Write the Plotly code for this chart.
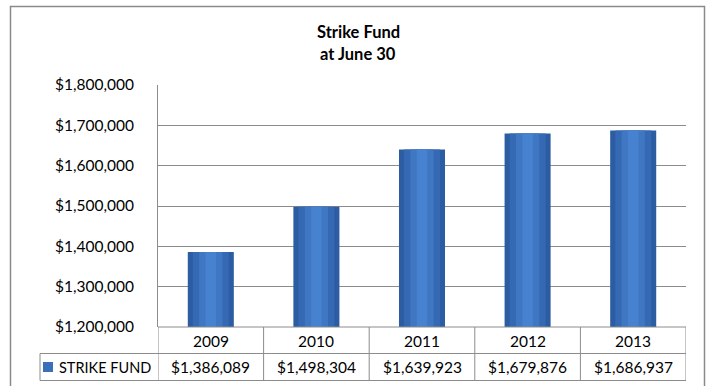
import plotly.graph_objects as go

years = ["2009", "2010", "2011", "2012", "2013"]
strike_fund = [1386089, 1498304, 1639923, 1679876, 1686937]
series_name = "STRIKE FUND"
title_lines = ["Strike Fund", "at June 30"]
y_ticks = [1200000, 1300000, 1400000, 1500000, 1600000, 1700000, 1800000]

FONT = "Lato"
FS = 15.5
GRID = "#8c8c8c"
W, H = 709, 386
L, R, T, B = 158, 23, 85, 59
pw, ph = W - L - R, H - T - B

def px_x(px):
    return (px - L) / pw

def px_y(py):
    return (H - B - py) / ph

fig = go.Figure()
# layered bars to mimic gradient
for w, col in [(0.436, "#2C5DA3"), (0.34, "#3569B3"), (0.22, "#3F77C3"), (0.10, "#4682CF")]:
    fig.add_trace(go.Bar(x=years, y=strike_fund, width=w, marker=dict(color=col, line=dict(width=0)),
                         showlegend=False, hoverinfo="skip"))

fig.update_layout(
    width=W, height=H, margin=dict(l=L, r=R, t=T, b=B),
    paper_bgcolor="white", plot_bgcolor="white",
    barmode="overlay", showlegend=False,
    font=dict(family=FONT, size=FS, color="#000000"),
)
fig.update_yaxes(range=[1200000, 1800000], tickvals=y_ticks, tickformat="$,.0f",
                 showgrid=True, gridcolor=GRID, gridwidth=1, zeroline=False,
                 showline=True, linecolor=GRID, linewidth=1,
                 ticks="", ticklabelstandoff=20,
                 tickfont=dict(family=FONT, size=FS, color="#000"))
fig.update_xaxes(type="category", showticklabels=False, showgrid=False, showline=False, zeroline=False,
                 range=[-0.5, 4.5])

shapes = []
# outer chart border
shapes.append(dict(type="rect", xref="paper", yref="paper", x0=px_x(10.5), x1=px_x(704.5),
                   y0=px_y(400), y1=px_y(6.5), line=dict(color="#8a8a8a", width=1.5), layer="below"))
# bottom axis line / table top
shapes.append(dict(type="line", xref="paper", yref="paper", x0=0, x1=1, y0=0, y1=0,
                   line=dict(color=GRID, width=1)))
# table vertical lines
for i in range(len(years) + 1):
    shapes.append(dict(type="line", xref="x", yref="paper", x0=i - 0.5, x1=i - 0.5,
                       y0=0, y1=px_y(380.5), line=dict(color=GRID, width=1)))
# row lines
for yy in (353.5, 380.5):
    shapes.append(dict(type="line", xref="paper", yref="paper", x0=px_x(40), x1=1,
                       y0=px_y(yy), y1=px_y(yy), line=dict(color=GRID, width=1)))
shapes.append(dict(type="line", xref="paper", yref="paper", x0=px_x(40), x1=px_x(40),
                   y0=px_y(353.5), y1=px_y(380.5), line=dict(color=GRID, width=1)))
# legend key
shapes.append(dict(type="rect", xref="paper", yref="paper", x0=px_x(43), x1=px_x(53),
                   y0=px_y(372), y1=px_y(362), fillcolor="#3A70BA", line=dict(width=0)))
fig.update_layout(shapes=shapes)

ann = []
for i, (yr, v) in enumerate(zip(years, strike_fund)):
    ann.append(dict(x=i, xref="x", y=px_y(340.5), yref="paper", text=yr, showarrow=False,
                    font=dict(family=FONT, size=FS), xanchor="center", yanchor="middle"))
    ann.append(dict(x=i, xref="x", y=px_y(367), yref="paper", text=f"${v:,.0f}", showarrow=False,
                    font=dict(family=FONT, size=FS), xanchor="center", yanchor="middle"))
ann.append(dict(x=px_x(153), xref="paper", y=px_y(367), yref="paper", text=series_name, showarrow=False,
                font=dict(family=FONT, size=14.5), xanchor="right", yanchor="middle"))
ann.append(dict(x=px_x(358), xref="paper", y=px_y(32), yref="paper", text=f"<b>{title_lines[0]}</b>",
                showarrow=False, font=dict(family=FONT, size=16.5), xanchor="center", yanchor="middle"))
ann.append(dict(x=px_x(358), xref="paper", y=px_y(54), yref="paper", text=f"<b>{title_lines[1]}</b>",
                showarrow=False, font=dict(family=FONT, size=16.5), xanchor="center", yanchor="middle"))
fig.update_layout(annotations=ann)

fig.write_html("out.html")
